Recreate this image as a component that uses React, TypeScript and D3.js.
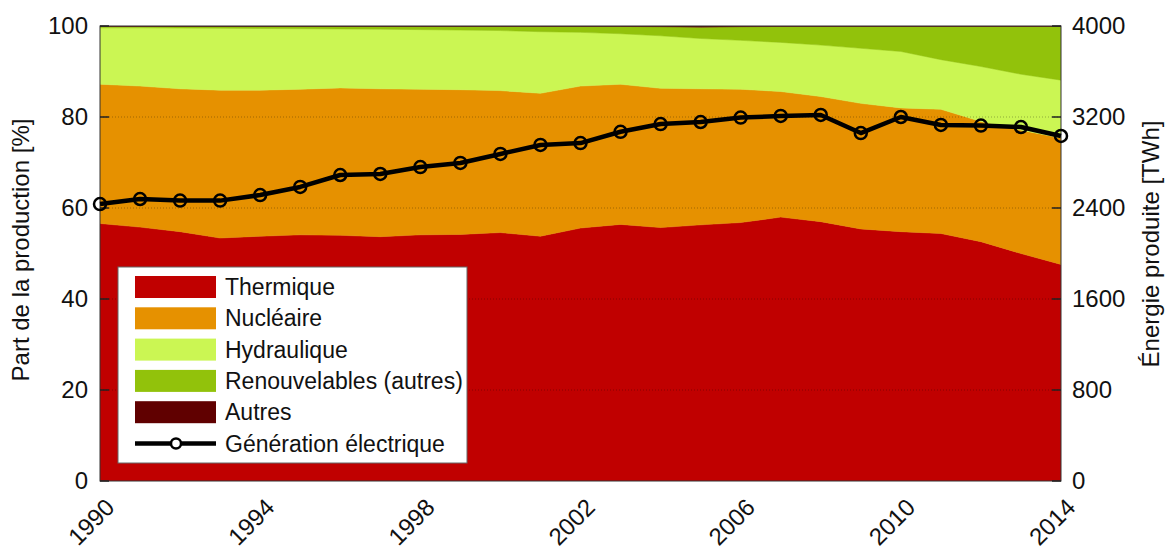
import React from "react";
import * as d3 from "d3";

const years = [1990,1991,1992,1993,1994,1995,1996,1997,1998,1999,2000,2001,2002,2003,2004,2005,2006,2007,2008,2009,2010,2011,2012,2013,2014];
const thermique = [56.6,55.8,54.8,53.4,53.8,54.1,54.0,53.7,54.1,54.2,54.6,53.8,55.6,56.4,55.7,56.3,56.8,58.0,57.0,55.4,54.8,54.4,52.6,50.0,47.6];
const nucleaire = [30.6,31.0,31.4,32.5,32.1,32.0,32.4,32.5,32.0,31.8,31.2,31.4,31.2,30.8,30.6,29.9,29.3,27.6,27.5,27.6,27.2,27.3,26.4,27.1,27.8];
const hydraulique = [12.4,12.8,13.35,13.6,13.55,13.3,12.95,13.1,13.1,13.1,13.2,13.55,11.8,11.1,11.55,11.05,10.75,10.8,11.3,12.1,12.4,10.9,12.1,12.3,12.7];
const renouvelables = [0.3,0.3,0.35,0.4,0.45,0.5,0.55,0.6,0.7,0.8,0.9,1.15,1.3,1.6,2.0,2.5,3.0,3.5,4.1,4.8,5.5,7.3,8.8,10.5,11.8];
const autres = [0.1,0.1,0.1,0.1,0.1,0.1,0.1,0.1,0.1,0.1,0.1,0.1,0.1,0.1,0.15,0.25,0.15,0.1,0.1,0.1,0.1,0.1,0.1,0.1,0.1];
const generation = [2435,2479,2465,2465,2514,2585,2690,2699,2760,2796,2875,2954,2971,3070,3138,3156,3195,3209,3218,3059,3200,3130,3125,3112,3033];

const seriesNames = ["Thermique","Nucléaire","Hydraulique","Renouvelables (autres)","Autres"];
const seriesKeys = ["th","nu","hy","re","au"];
const colors = ["#C00000","#E69100","#CBF653","#92C20B","#600000"];
const leftTicks = [0,20,40,60,80,100];
const rightTicks = [0,800,1600,2400,3200,4000];
const xTicks = [1990,1994,1998,2002,2006,2010,2014];

export default function App() {
  const W = 1171, H = 550;
  const L = 100, R = 1061, T = 26, B = 481;
  const x = d3.scaleLinear().domain([1990, 2014]).range([L, R]);
  const y = d3.scaleLinear().domain([0, 100]).range([B, T]);
  const y2 = d3.scaleLinear().domain([0, 4000]).range([B, T]);

  const rows = years.map((yr, i) => ({
    year: yr, th: thermique[i], nu: nucleaire[i], hy: hydraulique[i], re: renouvelables[i], au: autres[i],
  }));
  const stacked = d3.stack<any>().keys(seriesKeys)(rows);
  const area = d3.area<any>().x((d) => x(d.data.year)).y0((d) => y(d[0])).y1((d) => y(Math.min(100, d[1])));
  const line = d3.line<number>().x((_, i) => x(years[i])).y((d) => y2(d));

  const font = "Arial, 'Liberation Sans', sans-serif";
  const legX = 118, legY = 267, legW = 349, legH = 196;
  const rowH = 31.3;

  return (
    <svg width={W} height={H} style={{ position: "absolute", left: 0, top: 0 }} fontFamily={font}>
      <defs>
        <clipPath id="plot"><rect x={L} y={T} width={R - L} height={B - T} /></clipPath>
      </defs>
      <g clipPath="url(#plot)">
        {stacked.map((s, i) => (
          <path key={i} d={area(s) || ""} fill={colors[i]} stroke={colors[i]} strokeWidth={0.5} />
        ))}
      </g>
      {leftTicks.filter((t) => t > 0 && t < 100).map((t) => (
        <line key={"g" + t} x1={L} x2={R} y1={y(t)} y2={y(t)} stroke="#000" strokeOpacity={0.3} strokeWidth={1} strokeDasharray="1,2" />
      ))}
      <rect x={L} y={T} width={R - L} height={B - T} fill="none" stroke="#333" strokeWidth={1} />
      {leftTicks.map((t) => (
        <g key={"l" + t}>
          <line x1={L} x2={L + 9} y1={y(t)} y2={y(t)} stroke="#222" strokeWidth={1.5} />
          <text x={L - 12} y={y(t)} dy="0.35em" textAnchor="end" fontSize={24} fill="#111">{t}</text>
        </g>
      ))}
      {rightTicks.map((t) => (
        <g key={"r" + t}>
          <line x1={R - 9} x2={R} y1={y2(t)} y2={y2(t)} stroke="#222" strokeWidth={1.5} />
          <text x={R + 11} y={y2(t)} dy="0.35em" textAnchor="start" fontSize={24} fill="#111">{t}</text>
        </g>
      ))}
      {xTicks.map((t) => (
        <text key={"x" + t} transform={`translate(${x(t) + 4},${B + 16}) rotate(-45)`} textAnchor="end" dy="0.7em" fontSize={24} fill="#111">{t}</text>
      ))}
      <text transform={`translate(29,250) rotate(-90)`} textAnchor="middle" fontSize={24} fill="#111">Part de la production [%]</text>
      <text transform={`translate(1159,244) rotate(-90)`} textAnchor="middle" fontSize={24} fill="#111">Énergie produite [TWh]</text>

      <path d={line(generation) || ""} fill="none" stroke="#000" strokeWidth={4.5} strokeLinejoin="round" />
      {generation.map((g, i) => (
        <circle key={"c" + i} cx={x(years[i])} cy={y2(g)} r={6} fill="none" stroke="#000" strokeWidth={2.5} />
      ))}

      <rect x={legX} y={legY} width={legW} height={legH} fill="#fff" stroke="#666" strokeWidth={1} />
      {seriesNames.map((n, i) => (
        <g key={"lg" + i}>
          <rect x={135} y={legY + 9 + i * rowH} width={81} height={22} fill={colors[i]} />
          <text x={225} y={legY + 20 + i * rowH} dy="0.35em" fontSize={23} fill="#111">{n}</text>
        </g>
      ))}
      <line x1={135} x2={216} y1={legY + 20 + 5 * rowH} y2={legY + 20 + 5 * rowH} stroke="#000" strokeWidth={4.5} />
      <circle cx={176} cy={legY + 20 + 5 * rowH} r={5} fill="#fff" stroke="#000" strokeWidth={2.5} />
      <text x={225} y={legY + 20 + 5 * rowH} dy="0.35em" fontSize={23} fill="#111">Génération électrique</text>
    </svg>
  );
}
